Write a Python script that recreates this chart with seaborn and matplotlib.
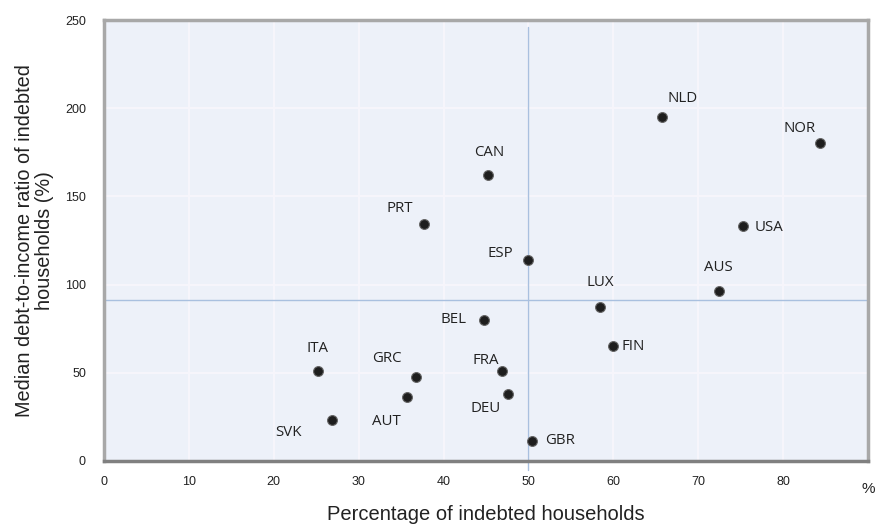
import matplotlib
matplotlib.use("Agg")
import matplotlib.pyplot as plt
import seaborn as sns
import pandas as pd

# === Data ===
countries = ["ITA", "SVK", "GRC", "AUT", "FRA", "DEU", "GBR", "FIN", "LUX", "AUS",
             "USA", "NOR", "NLD", "CAN", "PRT", "ESP", "BEL"]
pct_indebted = [25.2, 26.9, 36.7, 35.7, 46.9, 47.6, 50.4, 60.0, 58.4, 72.4,
                75.3, 84.4, 65.7, 45.3, 37.7, 50.0, 44.8]
debt_to_income = [51, 23, 47.5, 36, 51, 38, 11.5, 65, 87.5, 96.5,
                  133.5, 180.5, 195, 162, 134.5, 114, 80]
# label offsets in pixels (dx, dy)
label_offsets = [(0, 23), (-44, -12), (-29, 19), (-21, -24), (-16, 11), (-22, -15),
                 (28, 0), (20, 0), (1, 24), (0, 23), (26, -2), (-21, 14),
                 (21, 19), (1, 23), (-24, 15), (-28, 6), (-31, 0)]
ref_x = 50
ref_y = 91

df = pd.DataFrame({"country": countries, "pct": pct_indebted, "ratio": debt_to_income})

# === Style ===
sns.set_style("darkgrid", {"axes.facecolor": "#edf1f9", "grid.color": "#f6f5fb"})
plt.rcParams["font.family"] = ["Liberation Sans", "DejaVu Sans"]

fig = plt.figure(figsize=(8.77, 5.28), dpi=100)
ax = fig.add_axes([0.1186, 0.127, 0.871, 0.835])

ax.grid(True, color="#f6f5fb", linewidth=1.6)
ax.axvline(ref_x, ymin=-0.02, ymax=0.985, color="#a9c0df", linewidth=1.0, clip_on=False, zorder=2)
ax.axhline(ref_y, color="#a9c0df", linewidth=1.0, zorder=2)

sns.scatterplot(data=df, x="pct", y="ratio", ax=ax, color="#1e1e1e", s=50,
                edgecolor="#666666", linewidth=0.8, zorder=3, legend=False)

for name, x, y, (dx, dy) in zip(countries, pct_indebted, debt_to_income, label_offsets):
    ax.annotate(name, (x, y), xytext=(dx, dy), textcoords="offset pixels",
                ha="center", va="center", fontsize=10.8, color="#222222",
                family=["Open Sans", "DejaVu Sans"])

ax.set_xlim(0, 90)
ax.set_ylim(0, 250)
ax.set_xticks(range(0, 90, 10))
ax.set_yticks(range(0, 251, 50))
ax.tick_params(axis="both", labelsize=9, colors="#222222", length=0)
ax.tick_params(axis="x", pad=11)
ax.tick_params(axis="y", pad=13)

for side, sp in ax.spines.items():
    sp.set_visible(True)
    sp.set_color("#a8a8a8")
    sp.set_linewidth(2.5)
ax.spines["bottom"].set_color("#808080")

ax.set_xlabel("Percentage of indebted households", fontsize=14.5, color="#222222", labelpad=12)
ax.set_ylabel("Median debt-to-income ratio of indebted\nhouseholds (%)", fontsize=14.3,
              color="#222222", linespacing=1.1)
ax.yaxis.set_label_coords(-0.065, 0.5)

ax.text(1.0, -0.063, "%", transform=ax.transAxes, ha="center", va="center",
        fontsize=11, color="#222222")

plt.savefig("out.png", dpi=100)
plt.close()
